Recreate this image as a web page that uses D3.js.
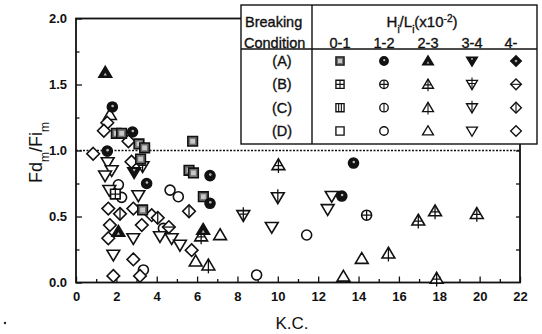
<!DOCTYPE html>
<html>
<head>
<meta charset="utf-8">
<script src="https://cdn.jsdelivr.net/npm/d3@7"></script>
<style>
  body { margin: 0; background: #fff; }
  svg { display: block; }
  text { font-family: "Liberation Sans", Arial, Helvetica, sans-serif; fill: #111; }
  .thick { stroke: #111; stroke-width: 0.35px; }
</style>
</head>
<body>
<svg id="chart" width="542" height="334"></svg>
<script>
// Breaking conditions (rows) and wave steepness classes H/L x10^-2 (columns)
const conditionLabels = ["(A)", "(B)", "(C)", "(D)"];
const steepnessLabels = ["0-1", "1-2", "2-3", "3-4", "4-"];
const xTickValues = [0, 2, 4, 6, 8, 10, 12, 14, 16, 18, 20, 22];
const yTickValues = [0, 0.5, 1.0, 1.5, 2.0];

// Each entry: [K.C., Fd_m/Fi_m, steepness class index]
const pointsA = [
  [2.0, 1.13, 0], [2.26, 1.13, 0], [3.12, 1.05, 0], [3.40, 1.02, 0], [3.2, 0.935, 0],
  [5.78, 1.07, 0], [5.6, 0.85, 0], [5.82, 0.83, 0], [6.31, 0.65, 0], [3.3, 0.55, 0],
  [1.80, 1.33, 1], [2.8, 1.14, 1], [1.55, 0.995, 1], [6.64, 0.81, 1], [6.64, 0.60, 1],
  [3.5, 0.75, 1], [13.17, 0.655, 1], [13.75, 0.905, 1],
  [1.45, 1.59, 2], [2.1, 0.385, 2], [6.3, 0.40, 2],
  [2.88, 0.835, 3]
];
const pointsB = [
  [1.95, 0.67, 0],
  [14.4, 0.51, 1],
  [10.03, 0.89, 2], [16.96, 0.47, 2], [17.79, 0.54, 2], [19.86, 0.52, 2], [17.87, 0.03, 2], [6.2, 0.35, 2],
  [3.3, 0.88, 3], [8.29, 0.51, 3],
  [4.6, 0.42, 4]
];
const pointsC = [
  [6.56, 0.13, 2], [15.48, 0.22, 2],
  [10.0, 0.645, 3],
  [2.18, 0.52, 4], [4.05, 0.49, 4], [5.6, 0.54, 4]
];
const pointsD = [
  [2.1, 0.74, 1], [2.26, 0.645, 1], [4.66, 0.70, 1], [5.07, 0.65, 1], [4.33, 0.41, 1],
  [3.34, 0.095, 1], [8.95, 0.057, 1], [11.43, 0.36, 1],
  [1.68, 1.27, 2], [5.93, 0.16, 2], [7.14, 0.36, 2], [13.25, 0.045, 2], [14.16, 0.18, 2],
  [1.57, 0.91, 3], [1.77, 0.85, 3], [1.44, 0.81, 3], [1.65, 0.70, 3], [3.09, 0.66, 3],
  [2.84, 0.335, 3], [4.16, 0.35, 3], [4.74, 0.335, 3], [5.15, 0.285, 3], [1.85, 0.21, 3],
  [9.7, 0.42, 3], [12.67, 0.655, 3], [12.47, 0.555, 3],
  [1.55, 1.21, 4], [1.38, 1.15, 4], [2.6, 1.07, 4], [0.85, 0.975, 4], [2.75, 0.915, 4],
  [1.6, 0.56, 4], [2.84, 0.56, 4], [3.75, 0.51, 4], [1.68, 0.435, 4], [1.6, 0.335, 4],
  [3.26, 0.435, 4], [5.73, 0.245, 4], [2.84, 0.175, 4], [1.85, 0.05, 4], [3.17, 0.05, 4]
];
const seriesByCondition = [pointsA, pointsB, pointsC, pointsD];

const svg = d3.select("#chart");
const plot = { left: 76, right: 520, top: 18.5, bottom: 282.5 };

const x = d3.scaleLinear().domain([0, 22]).range([plot.left, plot.right]);
const y = d3.scaleLinear().domain([0, 2]).range([plot.bottom, plot.top]);

// ---- axes (ticks point into the plot) ----
const fmtX = d3.format("d"), fmtY = d3.format(".1f");

function styleAxis(g, bold) {
  g.select(".domain").remove();
  g.selectAll(".tick line").attr("stroke", "#111").attr("stroke-width", 1.3);
  g.selectAll(".tick text")
    .style("font-family", "'Liberation Sans', Arial, sans-serif")
    .style("font-size", "13px").style("font-weight", bold ? "bold" : "normal")
    .attr("fill", "#111");
}

svg.append("g").attr("transform", `translate(0,${plot.bottom})`)
  .call(d3.axisBottom(x).tickValues(xTickValues).tickFormat(fmtX).tickSizeInner(-6).tickSizeOuter(0).tickPadding(9))
  .call(g => styleAxis(g, true));
svg.append("g").attr("transform", `translate(0,${plot.bottom})`)
  .call(d3.axisBottom(x).tickValues(d3.range(1, 22, 2)).tickFormat("").tickSizeInner(-3.5).tickSizeOuter(0))
  .call(g => styleAxis(g, false));

svg.append("g").attr("transform", `translate(${plot.left},0)`)
  .call(d3.axisLeft(y).tickValues(yTickValues).tickFormat(fmtY).tickSizeInner(-6).tickSizeOuter(0).tickPadding(9))
  .call(g => styleAxis(g, true));
svg.append("g").attr("transform", `translate(${plot.left},0)`)
  .call(d3.axisLeft(y).tickValues([0.25, 0.75, 1.25, 1.75]).tickFormat("").tickSizeInner(-3.5).tickSizeOuter(0))
  .call(g => styleAxis(g, false));

svg.append("g").attr("transform", `translate(${plot.right},0)`)
  .call(d3.axisRight(y).tickValues([0.25, 0.5, 0.75, 1.0]).tickFormat("").tickSizeInner(-4).tickSizeOuter(0))
  .call(g => styleAxis(g, false));

// frame
svg.append("rect")
  .attr("x", plot.left).attr("y", plot.top)
  .attr("width", plot.right - plot.left).attr("height", plot.bottom - plot.top)
  .attr("fill", "none").attr("stroke", "#111").attr("stroke-width", 1.8);

// reference line at Fd/Fi = 1
svg.append("line")
  .attr("x1", x(0)).attr("x2", x(22)).attr("y1", y(1)).attr("y2", y(1))
  .attr("stroke", "#111").attr("stroke-width", 1.4).attr("stroke-dasharray", "2,1.5");

// ---- marker shapes ----
const H = 4.8;
const outlines = [
  `M${-H},${-H}H${H}V${H}H${-H}Z`,
  "M5,0A5,5 0 1,1 -5,0A5,5 0 1,1 5,0Z",
  "M0,-6.2L6.4,4.6L-6.4,4.6Z",
  "M-6.4,-4.6L6.4,-4.6L0,6.2Z",
  "M0,-6.3L6.3,0L0,6.3L-6.3,0Z"
];
const innerB = [
  `M${-H},0H${H}M0,${-H}V${H}`,
  "M-5,0H5M0,-5V5",
  "M0,-6V8M-3.6,0.6H3.6",
  "M0,-8V6M-3.6,-1H3.6",
  "M-6.3,0H6.3"
];
const innerC = [
  `M-1.6,${-H}V${H}M1.6,${-H}V${H}`,
  "M0,-5V5",
  "M0,-6V8",
  "M0,-8V6",
  "M0,-6.3V6.3"
];
const innerA = [
  "M-2.4,-2.4H2.4V2.4H-2.4Z",
  "M1.6,-1A1.3,1.3 0 1,1 -1,-1A1.3,1.3 0 1,1 1.6,-1Z",
  "M0,0.2L1.6,3L-1.6,3Z",
  "M-1.5,-3.2H1.5L0,-0.6Z",
  "M0,-1.8L1.8,0L0,1.8L-1.8,0Z"
];

function addMarker(parent, px, py, cond, band, k) {
  const g = parent.append("g").attr("transform", `translate(${px},${py}) scale(${k})`);
  const filled = cond === 0;
  g.append("path").attr("d", outlines[band])
    .attr("fill", filled ? (band === 0 ? "#6f6f6f" : "#111") : "#fff")
    .attr("stroke", "#111").attr("stroke-width", 1.6).attr("stroke-linejoin", "miter");
  if (cond === 0) {
    g.append("path").attr("d", innerA[band])
      .attr("fill", band === 0 ? "#c8c8c8" : "#bbb").attr("stroke", "none");
  } else if (cond === 1) {
    g.append("path").attr("d", innerB[band]).attr("fill", "none").attr("stroke", "#111").attr("stroke-width", 1.3);
  } else if (cond === 2) {
    g.append("path").attr("d", innerC[band]).attr("fill", "none").attr("stroke", "#111").attr("stroke-width", 1.3);
  }
}

const markLayer = svg.append("g");
// open symbols first, filled ones on top
[3, 2, 1, 0].forEach(ci => {
  seriesByCondition[ci].forEach(d => addMarker(markLayer, x(d[0]), y(d[1]), ci, d[2], 1));
});

// ---- legend table ----
const lg = { left: 241, right: 537, top: 5, bottom: 144, split: 312, head: 49 };
const leg = svg.append("g");
leg.append("rect")
  .attr("x", lg.left).attr("y", lg.top)
  .attr("width", lg.right - lg.left).attr("height", lg.bottom - lg.top)
  .attr("fill", "#fff").attr("stroke", "#111").attr("stroke-width", 1.4);
leg.append("line").attr("x1", lg.split).attr("x2", lg.split).attr("y1", lg.top).attr("y2", lg.bottom)
  .attr("stroke", "#111").attr("stroke-width", 1.4);
leg.append("line").attr("x1", lg.left).attr("x2", lg.right).attr("y1", lg.head).attr("y2", lg.head)
  .attr("stroke", "#111").attr("stroke-width", 1.4);

const legFont = "14.5px";
leg.append("text").attr("class", "thick").attr("x", lg.left + 4).attr("y", 27).style("font-size", legFont).text("Breaking");
leg.append("text").attr("class", "thick").attr("x", lg.left + 3).attr("y", 47.5).style("font-size", legFont).text("Condition");

const head = leg.append("text").attr("class", "thick").attr("x", 422).attr("y", 27)
  .attr("text-anchor", "middle").style("font-size", "15px");
head.append("tspan").text("H");
head.append("tspan").attr("baseline-shift", "sub").style("font-size", "10px").text("i");
head.append("tspan").text("/L");
head.append("tspan").attr("baseline-shift", "sub").style("font-size", "10px").text("i");
head.append("tspan").text("(x10");
head.append("tspan").attr("baseline-shift", "super").style("font-size", "10px").text("-2");
head.append("tspan").text(")");

const colX = d3.scalePoint().domain(steepnessLabels).range([340, 516]);
const rowY = d3.scalePoint().domain(conditionLabels).range([61, 131]);

steepnessLabels.forEach((s, i) => {
  leg.append("text").attr("class", "thick").attr("x", colX(s) - (i === 4 ? 5 : 0)).attr("y", 47.5)
    .attr("text-anchor", "middle").style("font-size", legFont).text(s);
});
conditionLabels.forEach((c, ci) => {
  leg.append("text").attr("class", "thick").attr("x", 282).attr("y", rowY(c) + 5)
    .attr("text-anchor", "middle").style("font-size", legFont).text(c);
  steepnessLabels.forEach((s, band) => addMarker(leg, colX(s), rowY(c), ci, band, 0.85));
});

// ---- axis titles ----
svg.append("text").attr("x", 292).attr("y", 329).attr("text-anchor", "middle")
  .style("font-size", "17px").text("K.C.");

const yl = svg.append("text")
  .attr("transform", `translate(42,${(plot.top + plot.bottom) / 2 + 2}) rotate(-90)`)
  .attr("text-anchor", "middle").style("font-size", "18px");
yl.append("tspan").text("Fd");
yl.append("tspan").attr("baseline-shift", "sub").style("font-size", "12px").text("m");
yl.append("tspan").text("/Fi");
yl.append("tspan").attr("baseline-shift", "sub").style("font-size", "12px").text("m");

// small mark at lower left
svg.append("circle").attr("cx", 5).attr("cy", 323).attr("r", 1.2).attr("fill", "#222");
</script>
</body>
</html>
